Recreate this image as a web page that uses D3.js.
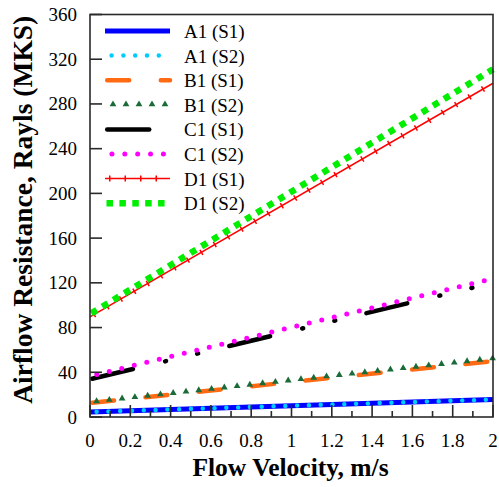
<!DOCTYPE html>
<html>
<head>
<meta charset="utf-8">
<script src="https://cdn.jsdelivr.net/npm/d3@7"></script>
<style>
  html, body { margin: 0; padding: 0; background: #fff; }
  svg { display: block; }
</style>
</head>
<body>
<svg id="chart" width="499" height="487"></svg>
<script>
// ---- data ----
const velocities = [0, 2];
const seriesNames = ["A1 (S1)", "A1 (S2)", "B1 (S1)", "B1 (S2)", "C1 (S1)", "C1 (S2)", "D1 (S1)", "D1 (S2)"];
const a1s1 = [4.5, 15.6];
const a1s2 = [4.5, 15.6];
const b1s1 = [12.5, 50];
const b1s2 = [13, 52];
const c1s1 = [33.7, 120];
const c1s2 = [36.6, 123.8];
const d1s1 = [89.5, 298.5];
const d1s2 = [92, 311];
const xTicks = [0, 0.2, 0.4, 0.6, 0.8, 1, 1.2, 1.4, 1.6, 1.8, 2];
const xTickLabels = ["0", "0.2", "0.4", "0.6", "0.8", "1", "1.2", "1.4", "1.6", "1.8", "2"];
const yTicks = [0, 40, 80, 120, 160, 200, 240, 280, 320, 360];
const xTitle = "Flow Velocity, m/s";
const yTitle = "Airflow Resistance, Rayls (MKS)";

// ---- styles ----
const styles = [
  {color: "#0000ff", width: 5, dash: null, cap: "butt"},
  {color: "#00ccff", width: 4.5, dash: "0 11.8", cap: "round", offset: 5.2},
  {color: "#ff6a13", width: 4.5, dash: "22 31.6", cap: "round", offset: -2.2},
  {color: "#1a6b38", marker: "triangle", step: 12.85, start: 6.6},
  {color: "#000000", width: 4.5, dash: "42 33 1 32 1 32", cap: "round", offset: -2.2},
  {color: "#ff00ff", width: 5, dash: "0 12.86", cap: "round", offset: 5.9},
  {color: "#ff0000", width: 1.5, dash: null, cap: "butt", ticks: "1.5 14", tickOffset: -4},
  {color: "#00ee00", width: 6.5, dash: "6.5 6.4", cap: "butt", offset: -1.5}
];
const allSeries = [a1s1, a1s2, b1s1, b1s2, c1s1, c1s2, d1s1, d1s2];

const svg = d3.select("#chart");
const W = 499, H = 487;
const m = {left: 90, right: 6, top: 14.5, bottom: 70};
const x = d3.scaleLinear().domain([0, 2]).range([m.left, W - m.right]);
const y = d3.scaleLinear().domain([0, 360]).range([H - m.bottom, m.top]);
const serif = "'Liberation Serif', 'Times New Roman', Times, serif";

const line = d3.line().x(d => x(d[0])).y(d => y(d[1]));

function drawTriangles(g, pathNode, start, step, color) {
  const L = pathNode.getTotalLength();
  const pts = d3.range(start, L, step).map(s => pathNode.getPointAtLength(s));
  g.selectAll(null).data(pts).enter().append("path")
    .attr("d", d3.symbol().type(d3.symbolTriangle).size(20)())
    .attr("transform", p => `translate(${p.x},${p.y - 0.5})`)
    .attr("fill", color);
}

function drawStyled(g, pathD, st) {
  if (st.marker === "triangle") {
    return g.append("path").attr("d", pathD).attr("fill", "none").attr("stroke", "none");
  }
  const p = g.append("path").attr("d", pathD)
    .attr("fill", "none")
    .attr("stroke", st.color)
    .attr("stroke-width", st.width)
    .attr("stroke-linecap", st.cap);
  if (st.dash) p.attr("stroke-dasharray", st.dash).attr("stroke-dashoffset", st.offset || 0);
  if (st.ticks) {
    g.append("path").attr("d", pathD)
      .attr("fill", "none")
      .attr("stroke", st.color)
      .attr("stroke-width", 6)
      .attr("stroke-dasharray", st.ticks)
      .attr("stroke-dashoffset", st.tickOffset || 0);
  }
  return p;
}

// ---- series ----
const plotG = svg.append("g");
allSeries.forEach((vals, i) => {
  const st = styles[i];
  const pts = velocities.map((v, k) => [v, vals[k]]);
  const g = plotG.append("g");
  const p = drawStyled(g, line(pts), st);
  if (st.marker === "triangle") drawTriangles(g, p.node(), st.start, st.step, st.color);
});

// ---- frame and ticks ----
const axG = svg.append("g").attr("stroke", "#2a2a2a").attr("stroke-width", 1.6);
axG.append("rect")
  .attr("x", x(0)).attr("y", y(360))
  .attr("width", x(2) - x(0)).attr("height", y(0) - y(360))
  .attr("fill", "none");
const xMinor = d3.range(0.1, 2, 0.2);
axG.selectAll(null).data(xTicks).enter().append("line")
  .attr("x1", d => x(d)).attr("x2", d => x(d))
  .attr("y1", y(0)).attr("y2", y(0) - 12);
axG.selectAll(null).data(xMinor).enter().append("line")
  .attr("x1", d => x(d)).attr("x2", d => x(d))
  .attr("y1", y(0)).attr("y2", y(0) - 6);
axG.selectAll(null).data(yTicks).enter().append("line")
  .attr("x1", x(0)).attr("x2", x(0) + 12)
  .attr("y1", d => y(d)).attr("y2", d => y(d));

// tick labels
svg.append("g").selectAll("text").data(xTicks).enter().append("text")
  .attr("x", d => x(d)).attr("y", y(0) + 30)
  .attr("text-anchor", "middle")
  .attr("font-family", serif).attr("font-size", 19)
  .text((d, i) => xTickLabels[i]);
svg.append("g").selectAll("text").data(yTicks).enter().append("text")
  .attr("x", x(0) - 13).attr("y", d => y(d) + 6.5)
  .attr("text-anchor", "end")
  .attr("font-family", serif).attr("font-size", 19)
  .text(d => d);

// axis titles
svg.append("text")
  .attr("x", (x(0) + x(2)) / 2 - 1).attr("y", 475.5)
  .attr("text-anchor", "middle")
  .attr("font-family", serif).attr("font-size", 25.5).attr("font-weight", "bold")
  .text(xTitle);
svg.append("text")
  .attr("transform", `translate(31.5, ${(y(0) + y(360)) / 2 - 6}) rotate(-90)`)
  .attr("text-anchor", "middle")
  .attr("font-family", serif).attr("font-size", 27.5).attr("font-weight", "bold")
  .text(yTitle);

// ---- legend ----
const legG = svg.append("g");
seriesNames.forEach((name, i) => {
  const st = styles[i];
  const ly = 31 + 24.6 * i;
  const g = legG.append("g");
  const d = `M105,${ly}L170,${ly}`;
  const p = drawStyled(g, d, Object.assign({}, st, {offset: st.marker ? 0 : (st.dash ? st.offset : 0)}));
  if (st.marker === "triangle") drawTriangles(g, p.node(), 8, 13, st.color);
  g.append("text")
    .attr("x", 184).attr("y", ly + 7)
    .attr("font-family", serif).attr("font-size", 19)
    .text(name);
});
</script>
</body>
</html>
